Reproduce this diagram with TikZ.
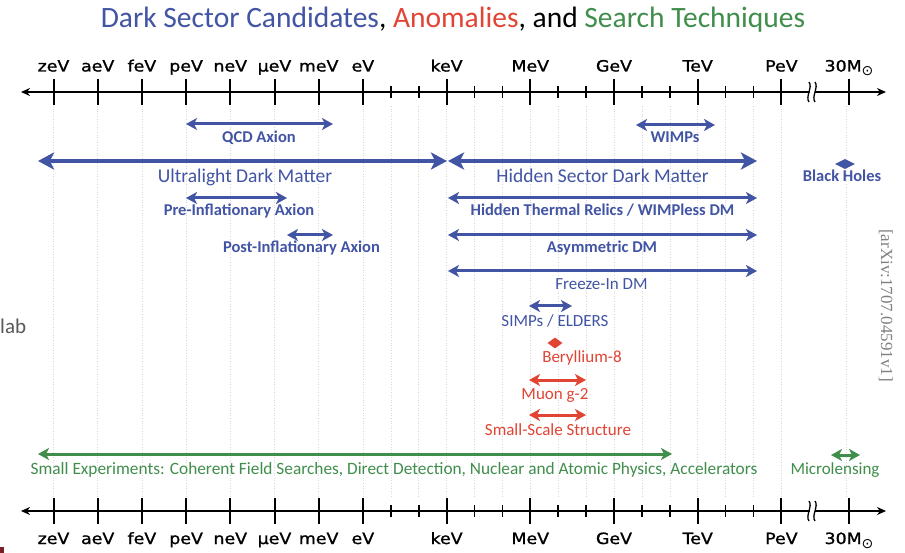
\documentclass[tikz,border=0pt]{standalone}
\usepackage{fontspec}
\setmainfont{Carlito}
\newfontfamily\axisfont{DejaVu Sans}[FakeStretch=1.12,FakeBold=1.2]
\newfontfamily\symfont{DejaVu Sans}
\newfontfamily\refsfont{Liberation Serif}
\usetikzlibrary{arrows.meta,shapes.geometric}

\definecolor{dsblue}{RGB}{66,84,164}
\definecolor{dsred}{RGB}{226,68,52}
\definecolor{dsgreen}{RGB}{64,142,76}
\definecolor{fermired}{RGB}{122,30,40}

\newcommand\solarmass{30M\raisebox{-4pt}{\symfont\fontsize{14}{14}\selectfont ⊙}}

\tikzset{
  axisline/.style={line width=2.2pt, {Stealth[length=9pt,width=8pt]}-{Stealth[length=9pt,width=8pt]}},
  majortick/.style={line width=2pt},
  minortick/.style={line width=1.6pt},
  gridline/.style={gray!30, dotted, line width=0.6pt},
  axlabel/.style={font=\axisfont\fontsize{15.5}{18}\selectfont, inner sep=0pt, anchor=base},
  bigspan/.style={line width=4.5pt, {Stealth[length=16pt,width=17pt,inset=4pt]}-{Stealth[length=16pt,width=17pt,inset=4pt]}},
  span/.style={line width=3pt, {Stealth[length=11pt,width=12pt,inset=3pt]}-{Stealth[length=11pt,width=12pt,inset=3pt]}},
  biglabel/.style={font=\fontsize{19.5}{22}\selectfont, inner sep=0pt, anchor=base},
  boldlabel/.style={font=\bfseries\fontsize{16.5}{19}\selectfont, inner sep=0pt, anchor=base},
  plainlabel/.style={font=\fontsize{17}{20}\selectfont, inner sep=0pt, anchor=base},
  point/.style={diamond, fill, inner sep=0pt}
}

\begin{document}
\begin{tikzpicture}[x=1pt,y=-1pt]
  \useasboundingbox (0,0) rectangle (905,553);
  \fill[white] (0,0) rectangle (905,553);

  % title
  \node[font=\fontsize{29.5}{32}\selectfont, inner sep=0pt, anchor=base] (title) at (453,27.5)
    {\textcolor{dsblue}{Dark Sector Candidates}, \textcolor{dsred}{Anomalies}, and \textcolor{dsgreen}{Search Techniques}};

  % faint grid
  \foreach \x in {53.5,97.7,141.9,186.1,230.3,274.5,318.7,362.9,390.8,418.7,446.6,474.5,502.4,530.3,558.2,586.1,614,641.9,669.8,697.7,725.6,753.5,781.4,846.7}
    \draw[gridline] (\x,106) -- (\x,497);

  % axes
  \coordinate (top-l) at (21,92);
  \coordinate (top-r) at (886,92);
  \coordinate (bot-l) at (21,511);
  \coordinate (bot-r) at (886,511);
  \draw[axisline] (top-l) -- (top-r);
  \draw[axisline] (bot-l) -- (bot-r);

  \foreach \x/\name [count=\i] in {53.5/zeV,97.7/aeV,141.9/feV,186.1/peV,230.3/neV,274.5/μeV,318.7/meV,362.9/eV,446.6/keV,530.3/MeV,614/GeV,697.7/TeV,781.4/PeV,849/\solarmass} {
    \draw[majortick] (\x,79) -- (\x,105);
    \draw[majortick] (\x,498) -- (\x,524);
    \node[axlabel] (top-\i) at (\x,71.5) {\name};
    \node[axlabel] (bot-\i) at (\x,544) {\name};
  }
  \foreach \x in {390.8,418.7,474.5,502.4,558.2,586.1,641.9,669.8,725.6,753.5} {
    \draw[minortick] (\x,86) -- (\x,98);
    \draw[minortick] (\x,505) -- (\x,517);
  }
  % axis break
  \foreach \y in {92,511} {
    \fill[white] (810,\y-4) rectangle (815,\y+4);
    \draw[line width=1.3pt] (809,\y-10) .. controls (813,\y-5) and (805,\y+5) .. (809,\y+10);
    \draw[line width=1.3pt] (815,\y-10) .. controls (819,\y-5) and (811,\y+5) .. (815,\y+10);
  }

  % dark sector candidates
  \coordinate (qcd-l) at (186,124);
  \coordinate (qcd-r) at (333,124);
  \draw[dsblue, span] (qcd-l) -- (qcd-r);
  \node[boldlabel, dsblue] (qcd) at (259,143) {QCD Axion};

  \coordinate (wimp-l) at (636,125);
  \coordinate (wimp-r) at (715,125);
  \draw[dsblue, span] (wimp-l) -- (wimp-r);
  \node[boldlabel, dsblue] (wimp) at (675,143) {WIMPs};

  \coordinate (uldm-l) at (38,161);
  \coordinate (uldm-r) at (447,161);
  \draw[dsblue, bigspan] (uldm-l) -- (uldm-r);
  \node[biglabel, dsblue] (uldm) at (245,183) {Ultralight Dark Matter};

  \coordinate (hsdm-l) at (448,161);
  \coordinate (hsdm-r) at (757,161);
  \draw[dsblue, bigspan] (hsdm-l) -- (hsdm-r);
  \node[biglabel, dsblue] (hsdm) at (602.5,183) {Hidden Sector Dark Matter};

  \node[point, dsblue, minimum width=20pt, minimum height=10pt] (bh-pt) at (845,164) {};
  \node[boldlabel, dsblue] (bh) at (842,182) {Black Holes};

  \coordinate (pre-l) at (186,198);
  \coordinate (pre-r) at (287,198);
  \draw[dsblue, span] (pre-l) -- (pre-r);
  \node[boldlabel, dsblue] (pre) at (239,215.3) {Pre-Inflationary Axion};

  \coordinate (htr-l) at (448,198);
  \coordinate (htr-r) at (757,198);
  \draw[dsblue, span] (htr-l) -- (htr-r);
  \node[boldlabel, dsblue] (htr) at (602.5,215.3) {Hidden Thermal Relics / WIMPless DM};

  \coordinate (post-l) at (287,235);
  \coordinate (post-r) at (333,235);
  \draw[dsblue, span] (post-l) -- (post-r);
  \node[boldlabel, dsblue] (post) at (301.5,253) {Post-Inflationary Axion};

  \coordinate (adm-l) at (448,235);
  \coordinate (adm-r) at (757,235);
  \draw[dsblue, span] (adm-l) -- (adm-r);
  \node[boldlabel, dsblue] (adm) at (602,253) {Asymmetric DM};

  \coordinate (fi-l) at (448,271);
  \coordinate (fi-r) at (757,271);
  \draw[dsblue, span] (fi-l) -- (fi-r);
  \node[plainlabel, dsblue] (fi) at (601.5,289.5) {Freeze-In DM};

  \coordinate (simp-l) at (529,306);
  \coordinate (simp-r) at (572,306);
  \draw[dsblue, span] (simp-l) -- (simp-r);
  \node[plainlabel, dsblue] (simp) at (555,326.5) {SIMPs / ELDERS};

  % anomalies
  \node[point, dsred, minimum width=15pt, minimum height=11pt] (be-pt) at (555,343) {};
  \node[plainlabel, dsred] (be) at (582,362.5) {Beryllium-8};

  \coordinate (g2-l) at (529,380);
  \coordinate (g2-r) at (586,380);
  \draw[dsred, span] (g2-l) -- (g2-r);
  \node[plainlabel, dsred] (g2) at (555,399.5) {Muon g-2};

  \coordinate (sss-l) at (529,415);
  \coordinate (sss-r) at (586,415);
  \draw[dsred, span] (sss-l) -- (sss-r);
  \node[plainlabel, dsred] (sss) at (558,435.5) {Small-Scale Structure};

  % search techniques
  \coordinate (exp-l) at (38,454);
  \coordinate (exp-r) at (672,454);
  \draw[dsgreen, span] (exp-l) -- (exp-r);
  \node[plainlabel, dsgreen, font=\fontsize{17.3}{20}\selectfont] (exp) at (394,474.5) {Small Experiments: Coherent Field Searches, Direct Detection, Nuclear and Atomic Physics, Accelerators};

  \coordinate (ml-l) at (831,455);
  \coordinate (ml-r) at (860,455);
  \draw[dsgreen, span] (ml-l) -- (ml-r);
  \node[plainlabel, dsgreen] (ml) at (835,474.5) {Microlensing};

  % edge remnants
  \node[font=\fontsize{21}{24}\selectfont, text=black!65, inner sep=0pt, anchor=base west] (lab) at (0,334) {lab};
  \node[font=\refsfont\fontsize{17}{20}\selectfont, text=black!50, inner sep=0pt, rotate=-90] (arxiv) at (886,305.5) {[arXiv:1707.04591v1]};
  \fill[fermired] (0,547) rectangle (4,553);
\end{tikzpicture}
\end{document}
